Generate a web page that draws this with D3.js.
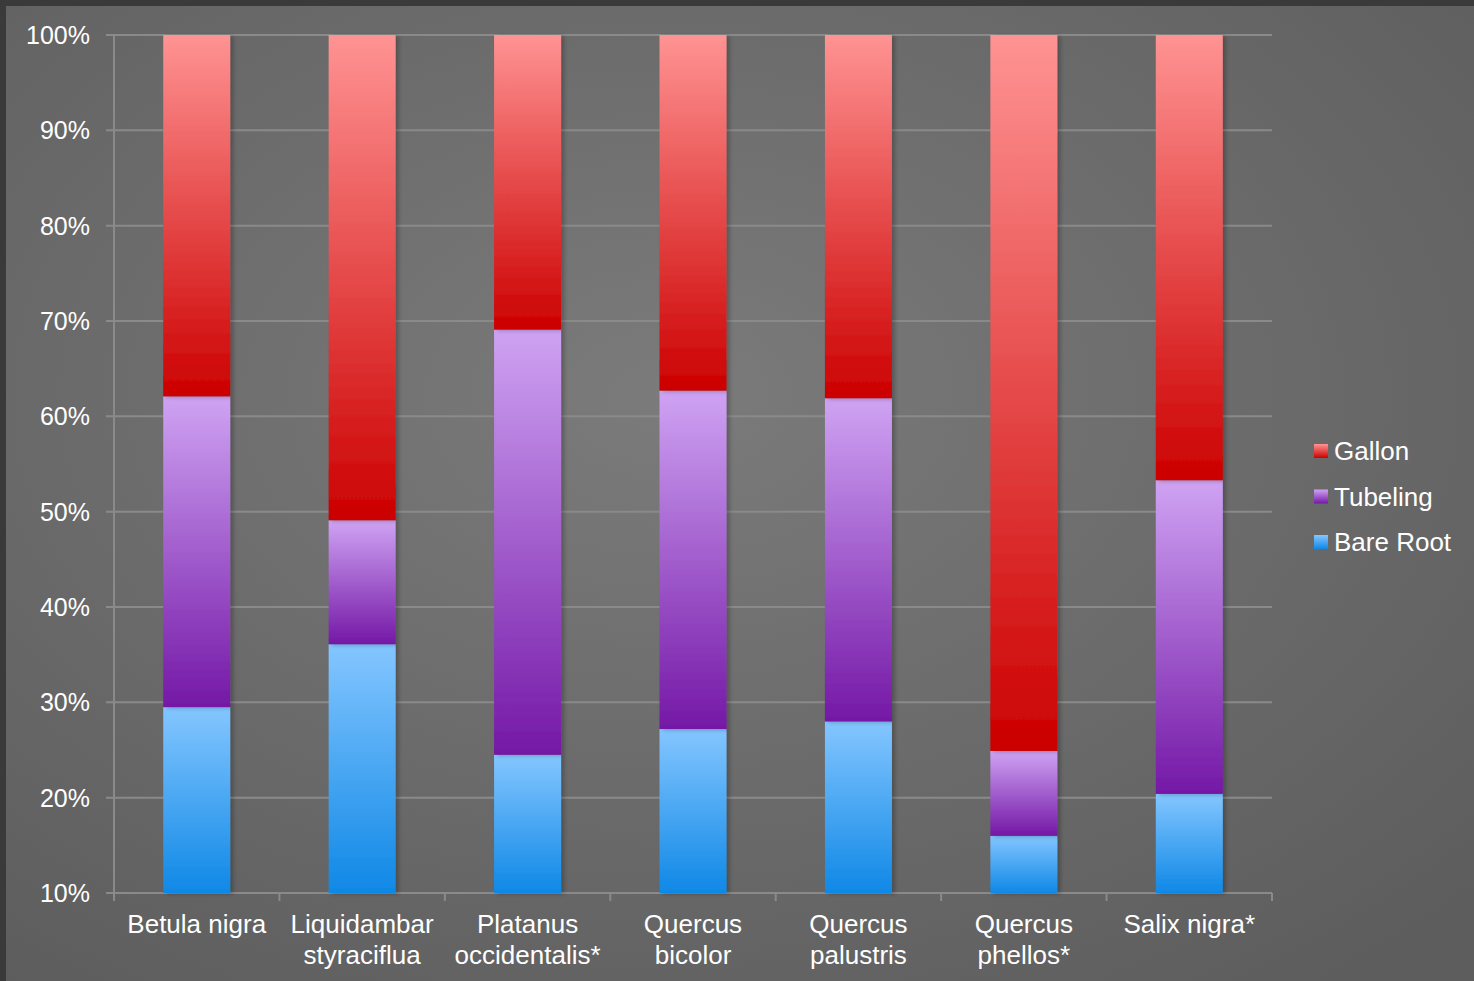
<!DOCTYPE html>
<html>
<head>
<meta charset="utf-8">
<script src="https://cdn.jsdelivr.net/npm/d3@7"></script>
<style>
html,body{margin:0;padding:0;background:#333;}
svg{display:block;}
text{font-family:"Liberation Sans",Arial,sans-serif;fill:#fff;}
</style>
</head>
<body>
<svg id="chart" width="1474" height="981"></svg>
<script>
const categories = [["Betula nigra"],["Liquidambar","styraciflua"],["Platanus","occidentalis*"],["Quercus","bicolor"],["Quercus","palustris"],["Quercus","phellos*"],["Salix nigra*"]];
const seriesNames = ["Bare Root","Tubeling","Gallon"];
const bareRoot = [29.5, 36.1, 24.5, 27.2, 28.0, 16.0, 20.4];
const tubeling = [32.6, 13.0, 44.6, 35.5, 33.9, 8.9, 32.9];
const gallon   = [37.9, 50.9, 30.9, 37.3, 38.1, 75.1, 46.7];
const yTicks = [10,20,30,40,50,60,70,80,90,100];
const gradColors = {
  "Gallon": ["#ff9393", "#cc0000"],
  "Tubeling": ["#cfa3f3", "#7418a6"],
  "Bare Root": ["#84c6ff", "#0f88e6"]
};

(function(){
const svg = d3.select("#chart");
const W = 1474, H = 981;
const defs = svg.append("defs");

const bg = defs.append("radialGradient").attr("id","bg").attr("cx","45%").attr("cy","40%").attr("r","75%");
bg.append("stop").attr("offset","0%").attr("stop-color","#7b7b7b");
bg.append("stop").attr("offset","100%").attr("stop-color","#5d5d5d");
svg.append("rect").attr("width",W).attr("height",H).attr("fill","#3a3a3a");
svg.append("rect").attr("x",6).attr("y",6).attr("width",W-6).attr("height",H-6).attr("fill","url(#bg)");

const gradIds = {};
Object.entries(gradColors).forEach(([k,c],i)=>{
  const g = defs.append("linearGradient").attr("id","g"+i).attr("x1",0).attr("y1",0).attr("x2",0).attr("y2",1);
  g.append("stop").attr("offset","0%").attr("stop-color",c[0]);
  g.append("stop").attr("offset","100%").attr("stop-color",c[1]);
  gradIds[k] = "g"+i;
});
const f = defs.append("filter").attr("id","sh").attr("x","-20%").attr("y","-5%").attr("width","150%").attr("height","110%");
f.append("feDropShadow").attr("dx",3).attr("dy",1).attr("stdDeviation",2).attr("flood-color","#000").attr("flood-opacity",0.25);

const pLeft = 114, pRight = 1272, pTop = 35, pBottom = 893;
const x = d3.scaleBand().domain(d3.range(categories.length)).range([pLeft,pRight]).paddingInner(0.595).paddingOuter(0.2975);
const y = d3.scaleLinear().domain([10,100]).range([pBottom,pTop]);

svg.append("g").selectAll("line").data(yTicks).join("line")
  .attr("x1",pLeft-8).attr("x2",pRight).attr("y1",d=>y(d)).attr("y2",d=>y(d))
  .attr("stroke","#8a8a8a").attr("stroke-width",2);

svg.append("line").attr("x1",pLeft).attr("x2",pLeft).attr("y1",pTop).attr("y2",pBottom).attr("stroke","#8a8a8a").attr("stroke-width",2);
svg.append("g").selectAll("text").data(yTicks).join("text")
  .attr("x",90).attr("y",d=>y(d)).attr("dy","0.36em").attr("text-anchor","end")
  .attr("font-size",25).text(d=>d+"%");

const step = (pRight-pLeft)/categories.length;
svg.append("g").selectAll("line").data(d3.range(categories.length+1)).join("line")
  .attr("x1",d=>pLeft+d*step).attr("x2",d=>pLeft+d*step).attr("y1",pBottom).attr("y2",pBottom+8)
  .attr("stroke","#8a8a8a").attr("stroke-width",2);

const rows = categories.map((c,i)=>({i, "Bare Root":bareRoot[i], "Tubeling":tubeling[i], "Gallon":gallon[i]}));
const layers = d3.stack().keys(seriesNames)(rows);
const clampY = v => y(Math.max(10, Math.min(100, v)));
layers.forEach(layer=>{
  const key = layer.key;
  svg.append("g").attr("filter","url(#sh)").selectAll("rect").data(layer).join("rect")
    .attr("x",(d,i)=>x(i)).attr("width",x.bandwidth())
    .attr("y",d=>clampY(d[1]))
    .attr("height",d=>clampY(d[0])-clampY(d[1]))
    .attr("fill","url(#"+gradIds[key]+")");
});

const lab = svg.append("g");
categories.forEach((lines,i)=>{
  const cx = x(i)+x.bandwidth()/2;
  const t = lab.append("text").attr("x",cx).attr("y",933).attr("text-anchor","middle").attr("font-size",26);
  lines.forEach((l,j)=>t.append("tspan").attr("x",cx).attr("dy",j?31:0).text(l));
});

const leg = svg.append("g");
["Gallon","Tubeling","Bare Root"].forEach((k,i)=>{
  const yy = 451 + i*45.5;
  leg.append("rect").attr("x",1314).attr("y",yy-7).attr("width",14).attr("height",14).attr("fill","url(#"+gradIds[k]+")");
  leg.append("text").attr("x",1334).attr("y",yy).attr("dy","0.36em").attr("font-size",26).text(k);
});
})();
</script>
</body>
</html>
